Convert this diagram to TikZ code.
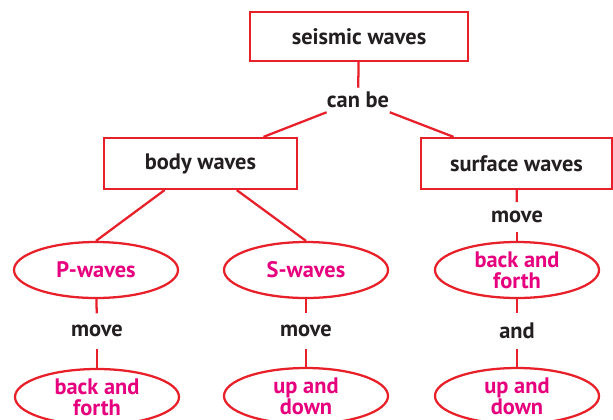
\documentclass[tikz,border=0pt]{standalone}
\usepackage{fontspec}
\setmainfont{PT Sans}
\usetikzlibrary{shapes.geometric,calc}
\definecolor{cmred}{HTML}{E8202A}
\definecolor{cmpink}{HTML}{E6007E}
\definecolor{cmtext}{HTML}{231F20}
\begin{document}
\begin{tikzpicture}[x=0.75pt,y=-0.75pt,
  every node/.style={font=\fontsize{16.8}{15.5}\selectfont\bfseries},
  conceptbox/.style={draw=cmred,line width=1.7pt,rectangle,inner sep=0pt,text=cmtext},
  conceptoval/.style={draw=cmred,line width=1.7pt,ellipse,inner sep=0pt,minimum width=123pt,minimum height=42pt,text=cmpink,align=center},
  linkword/.style={text=cmtext,inner sep=0pt,minimum width=60pt,minimum height=18pt},
  conn/.style={draw=cmred,line width=1.7pt}]
\useasboundingbox (0,0) rectangle (613,419);
\node[conceptbox,minimum width=163.5pt,minimum height=36.75pt] (seis) at (359,36.5) {seismic waves};
\node[linkword] (canbe) at (358,100) {can be};
\node[conceptbox,minimum width=144.75pt,minimum height=38.25pt] (body) at (200.5,163.5) {body waves};
\node[conceptbox,minimum width=143.25pt,minimum height=38.25pt] (surf) at (516.5,163.5) {surface waves};
\node[conceptoval] (pw) at (96,270) {P-waves};
\node[conceptoval] (sw) at (306,270) {S-waves};
\node[linkword,minimum height=22pt] (smove) at (517,217) {move};
\node[conceptoval] (sbf) at (517,270) {back and\\forth};
\node[linkword,minimum height=26pt] (pmove) at (97,331) {move};
\node[linkword,minimum height=26pt] (smove2) at (306,331) {move};
\node[linkword,minimum height=26pt] (sand) at (517,331) {and};
\node[conceptoval] (pbf) at (97,397) {back and\\forth};
\node[conceptoval] (sud) at (306,396) {up and\\down};
\node[conceptoval] (sud2) at (517,396) {up and\\down};
\draw[conn] (seis) -- (canbe);
\draw[conn] (canbe) -- ($(body.north)+(63,0)$);
\draw[conn] (canbe) -- ($(surf.north)+(-63,0)$);
\draw[conn] (body) -- (pw.north);
\draw[conn] (body) -- (sw.north);
\draw[conn] (surf) -- (smove);
\draw[conn] (smove) -- (sbf);
\draw[conn] (pw) -- (pmove);
\draw[conn] (pmove) -- (pbf);
\draw[conn] (sw) -- (smove2);
\draw[conn] (smove2) -- (sud);
\draw[conn] (sbf) -- (sand);
\draw[conn] (sand) -- (sud2);
\end{tikzpicture}
\end{document}
